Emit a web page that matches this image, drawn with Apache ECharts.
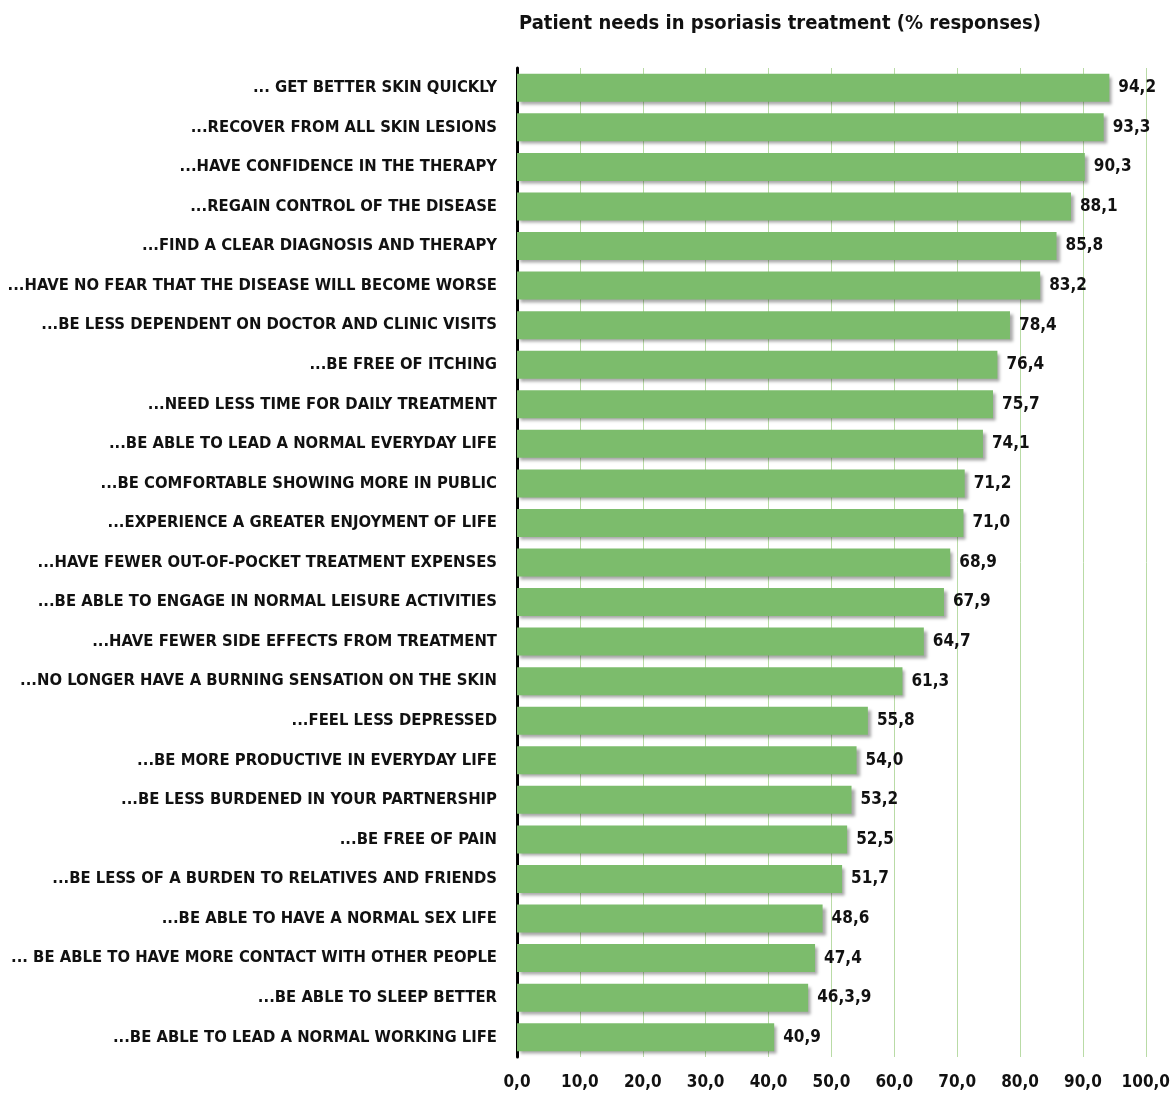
<!DOCTYPE html>
<html>
<head>
<meta charset="utf-8">
<script src="https://cdn.jsdelivr.net/npm/echarts@6/dist/echarts.min.js"></script>
<style>html,body{margin:0;padding:0;background:#fff}#c{width:1173px;height:1095px}</style>
</head>
<body>
<div id="c"></div>
<script>
const categories = [
  "... GET BETTER SKIN QUICKLY",
  "...RECOVER FROM ALL SKIN LESIONS",
  "...HAVE CONFIDENCE IN THE THERAPY",
  "...REGAIN CONTROL OF THE DISEASE",
  "...FIND A CLEAR DIAGNOSIS AND THERAPY",
  "...HAVE NO FEAR THAT THE DISEASE WILL BECOME WORSE",
  "...BE LESS DEPENDENT ON DOCTOR AND CLINIC VISITS",
  "...BE FREE OF ITCHING",
  "...NEED LESS TIME FOR DAILY TREATMENT",
  "...BE ABLE TO LEAD A NORMAL EVERYDAY LIFE",
  "...BE COMFORTABLE SHOWING MORE IN PUBLIC",
  "...EXPERIENCE A GREATER ENJOYMENT OF LIFE",
  "...HAVE FEWER OUT-OF-POCKET TREATMENT EXPENSES",
  "...BE ABLE TO ENGAGE IN NORMAL LEISURE ACTIVITIES",
  "...HAVE FEWER SIDE EFFECTS FROM TREATMENT",
  "...NO LONGER HAVE A BURNING SENSATION ON THE SKIN",
  "...FEEL LESS DEPRESSED",
  "...BE MORE PRODUCTIVE IN EVERYDAY LIFE",
  "...BE LESS BURDENED IN YOUR PARTNERSHIP",
  "...BE FREE OF PAIN",
  "...BE LESS OF A BURDEN TO RELATIVES AND FRIENDS",
  "...BE ABLE TO HAVE A NORMAL SEX LIFE",
  "... BE ABLE TO HAVE MORE CONTACT WITH OTHER PEOPLE",
  "...BE ABLE TO SLEEP BETTER",
  "...BE ABLE TO LEAD A NORMAL WORKING LIFE"
];
const values = [94.2, 93.3, 90.3, 88.1, 85.8, 83.2, 78.4, 76.4, 75.7, 74.1, 71.2, 71.0, 68.9, 67.9, 64.7, 61.3, 55.8, 54.0, 53.2, 52.5, 51.7, 48.6, 47.4, 46.3, 40.9];
const valueLabels = ["94,2","93,3","90,3","88,1","85,8","83,2","78,4","76,4","75,7","74,1","71,2","71,0","68,9","67,9","64,7","61,3","55,8","54,0","53,2","52,5","51,7","48,6","47,4","46,3,9","40,9"];
const xTicks = { min: 0, max: 100, interval: 10 };
const titleText = "Patient needs in psoriasis treatment (% responses)";

const FONT = "'Liberation Sans Narrow', 'DejaVu Sans Condensed', 'Liberation Sans', sans-serif";
const chart = echarts.init(document.getElementById('c'));
chart.setOption({
  animation: false,
  backgroundColor: '#ffffff',
  title: {
    text: titleText,
    left: 514, top: 9,
    textStyle: { fontFamily: FONT, fontWeight: 'bold', fontSize: 20, color: '#111' }
  },
  grid: { left: 517, right: 21, top: 68, bottom: 38, containLabel: false },
  xAxis: {
    type: 'value', min: xTicks.min, max: xTicks.max, interval: xTicks.interval,
    axisLine: { show: false }, axisTick: { show: false },
    splitLine: { show: true, lineStyle: { color: '#b9dba6', width: 1 } },
    axisLabel: {
      margin: 17,
      fontFamily: FONT, fontWeight: 'bold', fontSize: 17, color: '#111',
      formatter: v => v.toFixed(1).replace('.', ',')
    }
  },
  yAxis: {
    type: 'category', data: categories, inverse: true,
    axisLine: { show: true, lineStyle: { color: '#000', width: 3 } },
    axisTick: { show: false },
    axisLabel: { margin: 20, fontFamily: FONT, fontWeight: 'bold', fontSize: 16.5, color: '#111' }
  },
  series: [{
    type: 'bar',
    data: values,
    barWidth: 28,
    itemStyle: {
      color: '#7cbc6c',
      shadowColor: 'rgba(0,0,0,0.35)', shadowBlur: 3, shadowOffsetX: 3, shadowOffsetY: 3
    },
    label: {
      show: true, position: 'right', distance: 9,
      fontFamily: FONT, fontWeight: 'bold', fontSize: 17, color: '#111',
      formatter: p => valueLabels[p.dataIndex]
    }
  }]
});
</script>
</body>
</html>
